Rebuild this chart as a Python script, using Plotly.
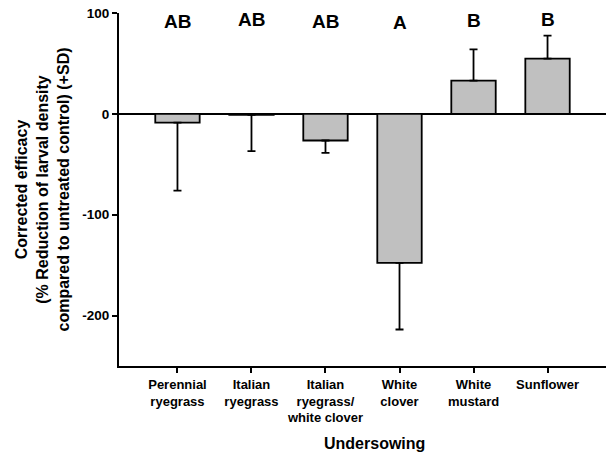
import plotly.graph_objects as go

categories = ["Perennial<br>ryegrass", "Italian<br>ryegrass", "Italian<br>ryegrass/<br>white clover",
              "White<br>clover", "White<br>mustard", "Sunflower"]
efficacy = [-8.6, -1.0, -26.4, -147.8, 33.0, 54.8]
sd = [67.5, 36.0, 12.2, 66.0, 31.0, 22.7]
letters = ["AB", "AB", "AB", "A", "B", "B"]
letter_y = [91.9, 93.4, 91.1, 90.1, 93.0, 93.7]
y_ticks = [100, 0, -100, -200]

xpos = list(range(len(categories)))
err_plus = [s if v >= 0 else 0 for v, s in zip(efficacy, sd)]
err_minus = [s if v < 0 else 0 for v, s in zip(efficacy, sd)]

font_family = "Liberation Sans, Arial, sans-serif"

W, H = 606, 454
ML, MR, MT, MB = 119, 0, 13, 88

fig = go.Figure()
fig.add_trace(go.Bar(
    x=xpos, y=efficacy, width=0.6,
    marker=dict(color="#c0c0c0", line=dict(color="black", width=1.8)),
    error_y=dict(type="data", symmetric=False, array=err_plus, arrayminus=err_minus,
                 color="black", thickness=1.8, width=4),
    showlegend=False,
))

for x, t, y in zip(xpos, letters, letter_y):
    fig.add_annotation(x=x, y=y, text="<b>%s</b>" % t, showarrow=False,
                       xref="x", yref="y", yanchor="middle",
                       font=dict(family=font_family, size=19, color="black"))

plot_h = H - MT - MB
fig.add_annotation(x=(374 - ML) / (W - ML - MR), y=(H - MB - 443) / plot_h,
                   xref="paper", yref="paper", text="<b>Undersowing</b>",
                   showarrow=False, yanchor="middle",
                   font=dict(family=font_family, size=16, color="black"))

fig.update_layout(
    width=W, height=H,
    margin=dict(l=ML, r=MR, t=MT, b=MB),
    paper_bgcolor="white", plot_bgcolor="white",
    font=dict(family=font_family, color="black"),
    xaxis=dict(
        range=[-0.79, 5.79], tickmode="array", tickvals=xpos,
        ticktext=["<b>%s</b>" % c for c in categories],
        tickfont=dict(size=13), ticks="outside", ticklen=5, tickwidth=2, tickcolor="black",
        showline=True, linecolor="black", linewidth=2, showgrid=False, zeroline=False,
    ),
    yaxis=dict(
        range=[-250, 100], tickmode="array", tickvals=y_ticks,
        ticktext=["<b>%d</b>" % v for v in y_ticks],
        tickfont=dict(size=13.5), ticks="outside", ticklen=5, tickwidth=2, tickcolor="black",
        showline=True, linecolor="black", linewidth=2, showgrid=False,
        zeroline=True, zerolinecolor="black", zerolinewidth=1.5,
        title=dict(text="<b>Corrected efficacy<br>(% Reduction of larval density<br>compared to untreated control) (+SD)</b>",
                   font=dict(size=16), standoff=9),
    ),
)

fig.write_html("out.html", config={"displayModeBar": False},
               post_script="document.body.style.margin='0px';document.body.style.overflow='hidden';")
